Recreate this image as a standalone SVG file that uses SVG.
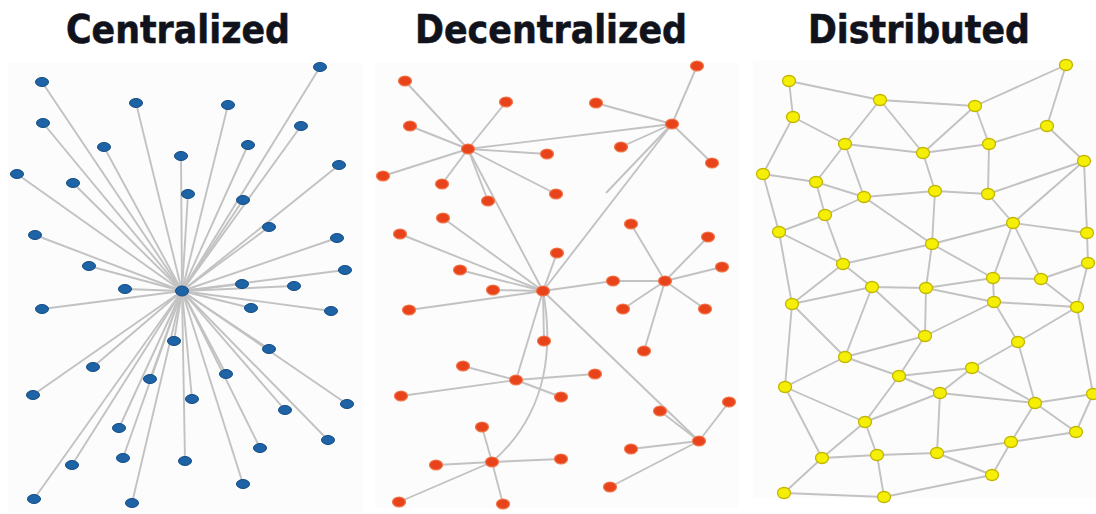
<svg xmlns="http://www.w3.org/2000/svg" width="1096" height="514" viewBox="0 0 1096 514">
<style>
.title{font-family:"DejaVu Sans","Liberation Sans",sans-serif;font-weight:bold;font-size:39px;fill:#10121c;text-anchor:middle;stroke:#10121c;stroke-width:0.6}
.bg{fill:#fcfcfc}
.e{stroke:#c2c2c2;stroke-width:1.9;fill:none}
.c ellipse{fill:#1d63a6;stroke:#164d82;stroke-width:1}
.d ellipse{fill:#e8431b;stroke:#f0774c;stroke-width:1.2}
.s ellipse{fill:#f5ef05;stroke:#c3b600;stroke-width:1.3}
</style>
<rect width="1096" height="514" fill="#ffffff"/>
<rect class="bg" x="8" y="63" width="354" height="449"/>
<rect class="bg" x="375" y="63" width="363" height="445"/>
<rect class="bg" x="753" y="60" width="343" height="438"/>
<text class="title" x="178" y="43" textLength="224" lengthAdjust="spacingAndGlyphs">Centralized</text>
<text class="title" x="551" y="43" textLength="272" lengthAdjust="spacingAndGlyphs">Decentralized</text>
<text class="title" x="919" y="43" textLength="222" lengthAdjust="spacingAndGlyphs">Distributed</text>

<g id="connectors">
<g id="edges-centralized" class="e">
<line x1="182" y1="291" x2="42" y2="82"/><line x1="182" y1="291" x2="320" y2="67"/><line x1="182" y1="291" x2="136" y2="103"/><line x1="182" y1="291" x2="228" y2="105"/>
<line x1="182" y1="291" x2="43" y2="123"/><line x1="182" y1="291" x2="301" y2="126"/><line x1="182" y1="291" x2="104" y2="147"/><line x1="182" y1="291" x2="248" y2="145"/>
<line x1="182" y1="291" x2="181" y2="156"/><line x1="182" y1="291" x2="17" y2="174"/><line x1="182" y1="291" x2="73" y2="183"/><line x1="182" y1="291" x2="339" y2="165"/>
<line x1="182" y1="291" x2="188" y2="194"/><line x1="182" y1="291" x2="243" y2="200"/><line x1="182" y1="291" x2="269" y2="227"/><line x1="182" y1="291" x2="35" y2="235"/>
<line x1="182" y1="291" x2="337" y2="238"/><line x1="182" y1="291" x2="89" y2="266"/><line x1="182" y1="291" x2="345" y2="270"/><line x1="182" y1="291" x2="125" y2="289"/>
<line x1="182" y1="291" x2="242" y2="284"/><line x1="182" y1="291" x2="294" y2="286"/><line x1="182" y1="291" x2="42" y2="309"/><line x1="182" y1="291" x2="251" y2="308"/>
<line x1="182" y1="291" x2="331" y2="311"/><line x1="182" y1="291" x2="174" y2="341"/><line x1="182" y1="291" x2="269" y2="349"/><line x1="182" y1="291" x2="93" y2="367"/>
<line x1="182" y1="291" x2="150" y2="379"/><line x1="182" y1="291" x2="226" y2="374"/><line x1="182" y1="291" x2="33" y2="395"/><line x1="182" y1="291" x2="192" y2="399"/>
<line x1="182" y1="291" x2="285" y2="410"/><line x1="182" y1="291" x2="347" y2="404"/><line x1="182" y1="291" x2="119" y2="428"/><line x1="182" y1="291" x2="328" y2="440"/>
<line x1="182" y1="291" x2="260" y2="448"/><line x1="182" y1="291" x2="72" y2="465"/><line x1="182" y1="291" x2="123" y2="458"/><line x1="182" y1="291" x2="185" y2="461"/>
<line x1="182" y1="291" x2="243" y2="484"/><line x1="182" y1="291" x2="34" y2="499"/><line x1="182" y1="291" x2="132" y2="503"/>
</g>
<g id="edges-decentralized" class="e">
<line x1="468" y1="149" x2="405" y2="81"/><line x1="468" y1="149" x2="506" y2="102"/><line x1="468" y1="149" x2="410" y2="126"/><line x1="468" y1="149" x2="383" y2="176"/>
<line x1="468" y1="149" x2="442" y2="184"/><line x1="468" y1="149" x2="488" y2="201"/><line x1="468" y1="149" x2="547" y2="154"/><line x1="468" y1="149" x2="556" y2="194"/>
<line x1="468" y1="149" x2="672" y2="124"/><line x1="468" y1="149" x2="543" y2="291"/>
<line x1="672" y1="124" x2="697" y2="66"/><line x1="672" y1="124" x2="596" y2="103"/><line x1="672" y1="124" x2="621" y2="147"/><line x1="672" y1="124" x2="712" y2="163"/>
<line x1="669" y1="127" x2="606" y2="193"/><line x1="672" y1="124" x2="543" y2="291"/>
<line x1="543" y1="291" x2="443" y2="218"/><line x1="543" y1="291" x2="400" y2="234"/><line x1="543" y1="291" x2="460" y2="270"/><line x1="543" y1="291" x2="493" y2="290"/>
<line x1="543" y1="291" x2="409" y2="310"/><line x1="543" y1="291" x2="557" y2="253"/><line x1="543" y1="291" x2="613" y2="281"/><line x1="613" y1="281" x2="665" y2="281"/>
<line x1="543" y1="291" x2="544" y2="341"/><line x1="543" y1="291" x2="516" y2="380"/><line x1="543" y1="291" x2="699" y2="441"/>
<path d="M543 291 C552 340 552 410 492 462"/>
<line x1="665" y1="281" x2="631" y2="224"/><line x1="665" y1="281" x2="708" y2="237"/><line x1="665" y1="281" x2="722" y2="267"/><line x1="665" y1="281" x2="623" y2="309"/>
<line x1="665" y1="281" x2="705" y2="309"/><line x1="665" y1="281" x2="644" y2="351"/>
<line x1="516" y1="380" x2="463" y2="366"/><line x1="516" y1="380" x2="595" y2="374"/><line x1="516" y1="380" x2="401" y2="396"/><line x1="516" y1="380" x2="561" y2="397"/>
<line x1="699" y1="441" x2="660" y2="411"/><line x1="699" y1="441" x2="729" y2="402"/><line x1="699" y1="441" x2="631" y2="449"/><line x1="699" y1="441" x2="610" y2="487"/>
<line x1="492" y1="462" x2="482" y2="427"/><line x1="492" y1="462" x2="436" y2="465"/><line x1="492" y1="462" x2="561" y2="459"/><line x1="492" y1="462" x2="399" y2="502"/>
<line x1="492" y1="462" x2="503" y2="504"/>
</g>
<g id="edges-distributed" class="e">
<line x1="789" y1="81" x2="793" y2="117"/><line x1="789" y1="81" x2="880" y2="100"/><line x1="880" y1="100" x2="975" y2="106"/><line x1="975" y1="106" x2="1066" y2="65"/>
<line x1="1066" y1="65" x2="1047" y2="126"/><line x1="880" y1="100" x2="845" y2="144"/><line x1="880" y1="100" x2="923" y2="153"/><line x1="975" y1="106" x2="923" y2="153"/>
<line x1="975" y1="106" x2="989" y2="144"/><line x1="989" y1="144" x2="1047" y2="126"/><line x1="1047" y1="126" x2="1084" y2="161"/><line x1="793" y1="117" x2="845" y2="144"/>
<line x1="793" y1="117" x2="763" y2="174"/><line x1="845" y1="144" x2="923" y2="153"/><line x1="923" y1="153" x2="989" y2="144"/><line x1="845" y1="144" x2="816" y2="182"/>
<line x1="845" y1="144" x2="864" y2="197"/><line x1="923" y1="153" x2="935" y2="191"/><line x1="989" y1="144" x2="988" y2="194"/><line x1="988" y1="194" x2="1084" y2="161"/>
<line x1="763" y1="174" x2="816" y2="182"/><line x1="816" y1="182" x2="864" y2="197"/><line x1="864" y1="197" x2="935" y2="191"/><line x1="935" y1="191" x2="988" y2="194"/>
<line x1="763" y1="174" x2="779" y2="232"/><line x1="816" y1="182" x2="825" y2="215"/><line x1="864" y1="197" x2="825" y2="215"/><line x1="825" y1="215" x2="779" y2="232"/>
<line x1="988" y1="194" x2="1013" y2="223"/><line x1="1084" y1="161" x2="1013" y2="223"/><line x1="1084" y1="161" x2="1087" y2="233"/><line x1="1013" y1="223" x2="1087" y2="233"/>
<line x1="864" y1="197" x2="932" y2="244"/><line x1="935" y1="191" x2="932" y2="244"/><line x1="1013" y1="223" x2="932" y2="244"/><line x1="825" y1="215" x2="843" y2="264"/>
<line x1="779" y1="232" x2="843" y2="264"/><line x1="843" y1="264" x2="932" y2="244"/><line x1="932" y1="244" x2="993" y2="278"/><line x1="1013" y1="223" x2="993" y2="278"/>
<line x1="1013" y1="223" x2="1041" y2="279"/><line x1="993" y1="278" x2="1041" y2="279"/><line x1="1041" y1="279" x2="1088" y2="263"/><line x1="1087" y1="233" x2="1088" y2="263"/>
<line x1="779" y1="232" x2="792" y2="304"/><line x1="843" y1="264" x2="872" y2="287"/><line x1="843" y1="264" x2="792" y2="304"/><line x1="932" y1="244" x2="926" y2="288"/>
<line x1="792" y1="304" x2="872" y2="287"/><line x1="872" y1="287" x2="926" y2="288"/><line x1="926" y1="288" x2="993" y2="278"/><line x1="926" y1="288" x2="994" y2="302"/>
<line x1="993" y1="278" x2="994" y2="302"/><line x1="994" y1="302" x2="1077" y2="307"/><line x1="1041" y1="279" x2="1077" y2="307"/><line x1="1088" y1="263" x2="1077" y2="307"/>
<line x1="792" y1="304" x2="845" y2="357"/><line x1="872" y1="287" x2="845" y2="357"/><line x1="872" y1="287" x2="925" y2="336"/><line x1="926" y1="288" x2="925" y2="336"/>
<line x1="994" y1="302" x2="925" y2="336"/><line x1="994" y1="302" x2="1018" y2="342"/><line x1="1077" y1="307" x2="1018" y2="342"/><line x1="1077" y1="307" x2="1093" y2="394"/>
<line x1="792" y1="304" x2="785" y2="387"/><line x1="845" y1="357" x2="925" y2="336"/><line x1="845" y1="357" x2="785" y2="387"/><line x1="845" y1="357" x2="899" y2="376"/>
<line x1="925" y1="336" x2="899" y2="376"/><line x1="899" y1="376" x2="972" y2="368"/><line x1="1018" y1="342" x2="972" y2="368"/><line x1="1018" y1="342" x2="1035" y2="403"/>
<line x1="899" y1="376" x2="940" y2="393"/><line x1="972" y1="368" x2="940" y2="393"/><line x1="972" y1="368" x2="1035" y2="403"/><line x1="940" y1="393" x2="1035" y2="403"/>
<line x1="1035" y1="403" x2="1093" y2="394"/><line x1="1035" y1="403" x2="1076" y2="432"/><line x1="1093" y1="394" x2="1076" y2="432"/><line x1="785" y1="387" x2="865" y2="422"/>
<line x1="899" y1="376" x2="865" y2="422"/><line x1="940" y1="393" x2="865" y2="422"/><line x1="940" y1="393" x2="937" y2="453"/><line x1="1035" y1="403" x2="1011" y2="442"/>
<line x1="1076" y1="432" x2="1011" y2="442"/><line x1="785" y1="387" x2="822" y2="458"/><line x1="865" y1="422" x2="822" y2="458"/><line x1="865" y1="422" x2="877" y2="455"/>
<line x1="822" y1="458" x2="877" y2="455"/><line x1="877" y1="455" x2="937" y2="453"/><line x1="937" y1="453" x2="1011" y2="442"/><line x1="937" y1="453" x2="992" y2="475"/>
<line x1="1011" y1="442" x2="992" y2="475"/><line x1="822" y1="458" x2="784" y2="493"/><line x1="877" y1="455" x2="884" y2="497"/><line x1="784" y1="493" x2="884" y2="497"/>
<line x1="884" y1="497" x2="992" y2="475"/>
</g>
</g>

<g id="nodes-centralized" class="c">
<g id="c0"><ellipse cx="182" cy="291" rx="6.5" ry="5"/></g>
<g id="c1"><ellipse cx="42" cy="82" rx="6.5" ry="4.5"/></g>
<g id="c2"><ellipse cx="320" cy="67" rx="6.5" ry="4.5"/></g>
<g id="c3"><ellipse cx="136" cy="103" rx="6.5" ry="4.5"/></g>
<g id="c4"><ellipse cx="228" cy="105" rx="6.5" ry="4.5"/></g>
<g id="c5"><ellipse cx="43" cy="123" rx="6.5" ry="4.5"/></g>
<g id="c6"><ellipse cx="301" cy="126" rx="6.5" ry="4.5"/></g>
<g id="c7"><ellipse cx="104" cy="147" rx="6.5" ry="4.5"/></g>
<g id="c8"><ellipse cx="248" cy="145" rx="6.5" ry="4.5"/></g>
<g id="c9"><ellipse cx="181" cy="156" rx="6.5" ry="4.5"/></g>
<g id="c10"><ellipse cx="17" cy="174" rx="6.5" ry="4.5"/></g>
<g id="c11"><ellipse cx="73" cy="183" rx="6.5" ry="4.5"/></g>
<g id="c12"><ellipse cx="339" cy="165" rx="6.5" ry="4.5"/></g>
<g id="c13"><ellipse cx="188" cy="194" rx="6.5" ry="4.5"/></g>
<g id="c14"><ellipse cx="243" cy="200" rx="6.5" ry="4.5"/></g>
<g id="c15"><ellipse cx="269" cy="227" rx="6.5" ry="4.5"/></g>
<g id="c16"><ellipse cx="35" cy="235" rx="6.5" ry="4.5"/></g>
<g id="c17"><ellipse cx="337" cy="238" rx="6.5" ry="4.5"/></g>
<g id="c18"><ellipse cx="89" cy="266" rx="6.5" ry="4.5"/></g>
<g id="c19"><ellipse cx="345" cy="270" rx="6.5" ry="4.5"/></g>
<g id="c20"><ellipse cx="125" cy="289" rx="6.5" ry="4.5"/></g>
<g id="c21"><ellipse cx="242" cy="284" rx="6.5" ry="4.5"/></g>
<g id="c22"><ellipse cx="294" cy="286" rx="6.5" ry="4.5"/></g>
<g id="c23"><ellipse cx="42" cy="309" rx="6.5" ry="4.5"/></g>
<g id="c24"><ellipse cx="251" cy="308" rx="6.5" ry="4.5"/></g>
<g id="c25"><ellipse cx="331" cy="311" rx="6.5" ry="4.5"/></g>
<g id="c26"><ellipse cx="174" cy="341" rx="6.5" ry="4.5"/></g>
<g id="c27"><ellipse cx="269" cy="349" rx="6.5" ry="4.5"/></g>
<g id="c28"><ellipse cx="93" cy="367" rx="6.5" ry="4.5"/></g>
<g id="c29"><ellipse cx="150" cy="379" rx="6.5" ry="4.5"/></g>
<g id="c30"><ellipse cx="226" cy="374" rx="6.5" ry="4.5"/></g>
<g id="c31"><ellipse cx="33" cy="395" rx="6.5" ry="4.5"/></g>
<g id="c32"><ellipse cx="192" cy="399" rx="6.5" ry="4.5"/></g>
<g id="c33"><ellipse cx="285" cy="410" rx="6.5" ry="4.5"/></g>
<g id="c34"><ellipse cx="347" cy="404" rx="6.5" ry="4.5"/></g>
<g id="c35"><ellipse cx="119" cy="428" rx="6.5" ry="4.5"/></g>
<g id="c36"><ellipse cx="328" cy="440" rx="6.5" ry="4.5"/></g>
<g id="c37"><ellipse cx="260" cy="448" rx="6.5" ry="4.5"/></g>
<g id="c38"><ellipse cx="72" cy="465" rx="6.5" ry="4.5"/></g>
<g id="c39"><ellipse cx="123" cy="458" rx="6.5" ry="4.5"/></g>
<g id="c40"><ellipse cx="185" cy="461" rx="6.5" ry="4.5"/></g>
<g id="c41"><ellipse cx="243" cy="484" rx="6.5" ry="4.5"/></g>
<g id="c42"><ellipse cx="34" cy="499" rx="6.5" ry="4.5"/></g>
<g id="c43"><ellipse cx="132" cy="503" rx="6.5" ry="4.5"/></g>
</g>

<g id="nodes-decentralized" class="d">
<g id="d1"><ellipse cx="405" cy="81" rx="6.5" ry="5"/></g>
<g id="d2"><ellipse cx="697" cy="66" rx="6.5" ry="5"/></g>
<g id="d3"><ellipse cx="506" cy="102" rx="6.5" ry="5"/></g>
<g id="d4"><ellipse cx="596" cy="103" rx="6.5" ry="5"/></g>
<g id="d5"><ellipse cx="410" cy="126" rx="6.5" ry="5"/></g>
<g id="d6"><ellipse cx="672" cy="124" rx="6.5" ry="5"/></g>
<g id="d7"><ellipse cx="468" cy="149" rx="6.5" ry="5"/></g>
<g id="d8"><ellipse cx="621" cy="147" rx="6.5" ry="5"/></g>
<g id="d9"><ellipse cx="547" cy="154" rx="6.5" ry="5"/></g>
<g id="d10"><ellipse cx="712" cy="163" rx="6.5" ry="5"/></g>
<g id="d11"><ellipse cx="383" cy="176" rx="6.5" ry="5"/></g>
<g id="d12"><ellipse cx="442" cy="184" rx="6.5" ry="5"/></g>
<g id="d13"><ellipse cx="488" cy="201" rx="6.5" ry="5"/></g>
<g id="d14"><ellipse cx="556" cy="194" rx="6.5" ry="5"/></g>
<g id="d15"><ellipse cx="443" cy="218" rx="6.5" ry="5"/></g>
<g id="d16"><ellipse cx="631" cy="224" rx="6.5" ry="5"/></g>
<g id="d17"><ellipse cx="400" cy="234" rx="6.5" ry="5"/></g>
<g id="d18"><ellipse cx="708" cy="237" rx="6.5" ry="5"/></g>
<g id="d19"><ellipse cx="557" cy="253" rx="6.5" ry="5"/></g>
<g id="d20"><ellipse cx="722" cy="267" rx="6.5" ry="5"/></g>
<g id="d21"><ellipse cx="460" cy="270" rx="6.5" ry="5"/></g>
<g id="d22"><ellipse cx="613" cy="281" rx="6.5" ry="5"/></g>
<g id="d23"><ellipse cx="665" cy="281" rx="6.5" ry="5"/></g>
<g id="d24"><ellipse cx="493" cy="290" rx="6.5" ry="5"/></g>
<g id="d25"><ellipse cx="543" cy="291" rx="6.5" ry="5"/></g>
<g id="d26"><ellipse cx="409" cy="310" rx="6.5" ry="5"/></g>
<g id="d27"><ellipse cx="623" cy="309" rx="6.5" ry="5"/></g>
<g id="d28"><ellipse cx="705" cy="309" rx="6.5" ry="5"/></g>
<g id="d29"><ellipse cx="544" cy="341" rx="6.5" ry="5"/></g>
<g id="d30"><ellipse cx="644" cy="351" rx="6.5" ry="5"/></g>
<g id="d31"><ellipse cx="463" cy="366" rx="6.5" ry="5"/></g>
<g id="d32"><ellipse cx="516" cy="380" rx="6.5" ry="5"/></g>
<g id="d33"><ellipse cx="595" cy="374" rx="6.5" ry="5"/></g>
<g id="d34"><ellipse cx="401" cy="396" rx="6.5" ry="5"/></g>
<g id="d35"><ellipse cx="561" cy="397" rx="6.5" ry="5"/></g>
<g id="d36"><ellipse cx="660" cy="411" rx="6.5" ry="5"/></g>
<g id="d37"><ellipse cx="729" cy="402" rx="6.5" ry="5"/></g>
<g id="d38"><ellipse cx="482" cy="427" rx="6.5" ry="5"/></g>
<g id="d39"><ellipse cx="699" cy="441" rx="6.5" ry="5"/></g>
<g id="d40"><ellipse cx="631" cy="449" rx="6.5" ry="5"/></g>
<g id="d41"><ellipse cx="436" cy="465" rx="6.5" ry="5"/></g>
<g id="d42"><ellipse cx="492" cy="462" rx="6.5" ry="5"/></g>
<g id="d43"><ellipse cx="561" cy="459" rx="6.5" ry="5"/></g>
<g id="d44"><ellipse cx="610" cy="487" rx="6.5" ry="5"/></g>
<g id="d45"><ellipse cx="399" cy="502" rx="6.5" ry="5"/></g>
<g id="d46"><ellipse cx="503" cy="504" rx="6.5" ry="5"/></g>
</g>

<g id="nodes-distributed" class="s">
<g id="s1"><ellipse cx="789" cy="81" rx="6.5" ry="5.5"/></g>
<g id="s2"><ellipse cx="880" cy="100" rx="6.5" ry="5.5"/></g>
<g id="s3"><ellipse cx="975" cy="106" rx="6.5" ry="5.5"/></g>
<g id="s4"><ellipse cx="1066" cy="65" rx="6.5" ry="5.5"/></g>
<g id="s5"><ellipse cx="793" cy="117" rx="6.5" ry="5.5"/></g>
<g id="s6"><ellipse cx="1047" cy="126" rx="6.5" ry="5.5"/></g>
<g id="s7"><ellipse cx="845" cy="144" rx="6.5" ry="5.5"/></g>
<g id="s8"><ellipse cx="923" cy="153" rx="6.5" ry="5.5"/></g>
<g id="s9"><ellipse cx="989" cy="144" rx="6.5" ry="5.5"/></g>
<g id="s10"><ellipse cx="1084" cy="161" rx="6.5" ry="5.5"/></g>
<g id="s11"><ellipse cx="763" cy="174" rx="6.5" ry="5.5"/></g>
<g id="s12"><ellipse cx="816" cy="182" rx="6.5" ry="5.5"/></g>
<g id="s13"><ellipse cx="864" cy="197" rx="6.5" ry="5.5"/></g>
<g id="s14"><ellipse cx="935" cy="191" rx="6.5" ry="5.5"/></g>
<g id="s15"><ellipse cx="988" cy="194" rx="6.5" ry="5.5"/></g>
<g id="s16"><ellipse cx="825" cy="215" rx="6.5" ry="5.5"/></g>
<g id="s17"><ellipse cx="779" cy="232" rx="6.5" ry="5.5"/></g>
<g id="s18"><ellipse cx="1013" cy="223" rx="6.5" ry="5.5"/></g>
<g id="s19"><ellipse cx="1087" cy="233" rx="6.5" ry="5.5"/></g>
<g id="s20"><ellipse cx="932" cy="244" rx="6.5" ry="5.5"/></g>
<g id="s21"><ellipse cx="843" cy="264" rx="6.5" ry="5.5"/></g>
<g id="s22"><ellipse cx="1088" cy="263" rx="6.5" ry="5.5"/></g>
<g id="s23"><ellipse cx="993" cy="278" rx="6.5" ry="5.5"/></g>
<g id="s24"><ellipse cx="1041" cy="279" rx="6.5" ry="5.5"/></g>
<g id="s25"><ellipse cx="872" cy="287" rx="6.5" ry="5.5"/></g>
<g id="s26"><ellipse cx="926" cy="288" rx="6.5" ry="5.5"/></g>
<g id="s27"><ellipse cx="994" cy="302" rx="6.5" ry="5.5"/></g>
<g id="s28"><ellipse cx="792" cy="304" rx="6.5" ry="5.5"/></g>
<g id="s29"><ellipse cx="1077" cy="307" rx="6.5" ry="5.5"/></g>
<g id="s30"><ellipse cx="925" cy="336" rx="6.5" ry="5.5"/></g>
<g id="s31"><ellipse cx="1018" cy="342" rx="6.5" ry="5.5"/></g>
<g id="s32"><ellipse cx="845" cy="357" rx="6.5" ry="5.5"/></g>
<g id="s33"><ellipse cx="972" cy="368" rx="6.5" ry="5.5"/></g>
<g id="s34"><ellipse cx="899" cy="376" rx="6.5" ry="5.5"/></g>
<g id="s35"><ellipse cx="785" cy="387" rx="6.5" ry="5.5"/></g>
<g id="s36"><ellipse cx="940" cy="393" rx="6.5" ry="5.5"/></g>
<g id="s37"><ellipse cx="1093" cy="394" rx="6.5" ry="5.5"/></g>
<g id="s38"><ellipse cx="1035" cy="403" rx="6.5" ry="5.5"/></g>
<g id="s39"><ellipse cx="865" cy="422" rx="6.5" ry="5.5"/></g>
<g id="s40"><ellipse cx="1076" cy="432" rx="6.5" ry="5.5"/></g>
<g id="s41"><ellipse cx="1011" cy="442" rx="6.5" ry="5.5"/></g>
<g id="s42"><ellipse cx="822" cy="458" rx="6.5" ry="5.5"/></g>
<g id="s43"><ellipse cx="877" cy="455" rx="6.5" ry="5.5"/></g>
<g id="s44"><ellipse cx="937" cy="453" rx="6.5" ry="5.5"/></g>
<g id="s45"><ellipse cx="992" cy="475" rx="6.5" ry="5.5"/></g>
<g id="s46"><ellipse cx="784" cy="493" rx="6.5" ry="5.5"/></g>
<g id="s47"><ellipse cx="884" cy="497" rx="6.5" ry="5.5"/></g>
</g>
</svg>
